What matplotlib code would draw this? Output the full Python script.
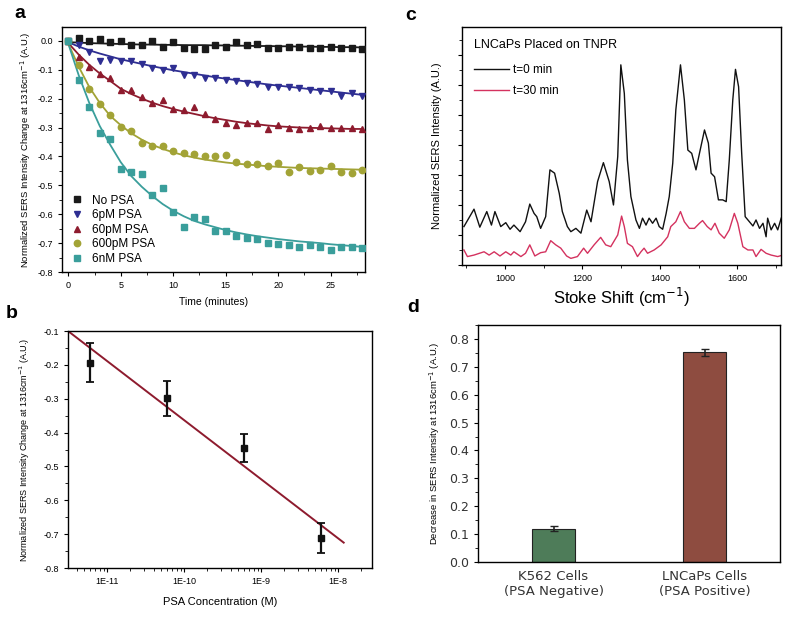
import numpy as np
import matplotlib
matplotlib.use("Agg")
import matplotlib.pyplot as plt
from matplotlib.ticker import MultipleLocator, LogLocator, NullFormatter

plt.rcParams['font.family'] = ['Liberation Sans', 'DejaVu Sans']
plt.rcParams['axes.unicode_minus'] = False

# ---- panel a: kinetics ----
time_min = list(range(29))
no_psa = [0.0, 0.01, 0.0, 0.005, -0.005, 0.0, -0.015, -0.015, 0.0, -0.02, -0.005, -0.025, -0.03, -0.03,
          -0.015, -0.02, -0.005, -0.015, -0.01, -0.025, -0.025, -0.02, -0.02, -0.025, -0.025, -0.02,
          -0.025, -0.025, -0.03]
psa_6pm = [0.0, -0.015, -0.04, -0.07, -0.065, -0.07, -0.07, -0.08, -0.095, -0.1, -0.095, -0.12, -0.12,
           -0.13, -0.13, -0.135, -0.14, -0.145, -0.15, -0.16, -0.16, -0.16, -0.165, -0.17, -0.175,
           -0.175, -0.19, -0.18, -0.19]
psa_60pm = [0.0, -0.055, -0.09, -0.115, -0.13, -0.17, -0.17, -0.195, -0.215, -0.205, -0.235, -0.24,
            -0.23, -0.255, -0.27, -0.285, -0.29, -0.285, -0.285, -0.305, -0.29, -0.3, -0.305, -0.3,
            -0.295, -0.3, -0.3, -0.3, -0.305]
psa_600pm = [0.0, -0.083, -0.168, -0.218, -0.257, -0.297, -0.311, -0.353, -0.363, -0.363, -0.382, -0.387,
             -0.392, -0.398, -0.398, -0.395, -0.418, -0.427, -0.427, -0.434, -0.422, -0.453, -0.436,
             -0.45, -0.447, -0.432, -0.453, -0.459, -0.447]
psa_6nm = [0.0, -0.135, -0.23, -0.318, -0.341, -0.444, -0.455, -0.461, -0.534, -0.511, -0.593, -0.644,
           -0.609, -0.617, -0.658, -0.658, -0.674, -0.681, -0.686, -0.699, -0.702, -0.708, -0.713,
           -0.708, -0.713, -0.725, -0.713, -0.713, -0.716]

fit_no = [-0.005, -0.006, -0.008, -0.009, -0.010, -0.011, -0.012, -0.013, -0.013, -0.014, -0.014, -0.015,
          -0.015, -0.015, -0.016, -0.016, -0.017, -0.017, -0.018, -0.018, -0.019, -0.019, -0.020, -0.020,
          -0.021, -0.021, -0.022, -0.022, -0.023]
fit_6pm = [-0.005, -0.02, -0.033, -0.044, -0.054, -0.064, -0.072, -0.080, -0.088, -0.095, -0.102, -0.108,
           -0.114, -0.120, -0.126, -0.131, -0.136, -0.141, -0.146, -0.151, -0.155, -0.159, -0.163,
           -0.167, -0.171, -0.175, -0.179, -0.183, -0.187]
fit_60pm = [-0.008, -0.048, -0.083, -0.113, -0.139, -0.166, -0.184, -0.200, -0.214, -0.226, -0.236, -0.245,
            -0.253, -0.261, -0.268, -0.274, -0.280, -0.285, -0.289, -0.293, -0.296, -0.298, -0.300,
            -0.301, -0.302, -0.303, -0.304, -0.305, -0.305]
fit_600pm = [-0.01, -0.09, -0.16, -0.215, -0.26, -0.292, -0.320, -0.342, -0.360, -0.374, -0.386, -0.396,
             -0.404, -0.411, -0.416, -0.421, -0.425, -0.428, -0.431, -0.434, -0.436, -0.438, -0.440,
             -0.441, -0.442, -0.443, -0.444, -0.445, -0.446]
fit_6nm = [-0.01, -0.12, -0.215, -0.295, -0.36, -0.42, -0.468, -0.505, -0.537, -0.565, -0.588, -0.607,
           -0.623, -0.635, -0.645, -0.655, -0.663, -0.670, -0.676, -0.681, -0.686, -0.690, -0.694,
           -0.697, -0.700, -0.704, -0.707, -0.710, -0.713]

series_labels = ['No PSA', '6pM PSA', '60pM PSA', '600pM PSA', '6nM PSA']

# ---- panel b: calibration ----
conc_m = [6e-12, 6e-11, 6e-10, 6e-9]
conc_change = [-0.194, -0.299, -0.446, -0.711]
conc_err = [0.058, 0.052, 0.041, 0.044]
line_conc = [3.1e-12, 1.18e-8]
line_val = [-0.1, -0.725]

# ---- panel c: spectra ----
shift_t0 = [894, 920, 935, 953, 965, 974, 989, 1002, 1013, 1023, 1039, 1053, 1064, 1075, 1082, 1092,
            1105, 1116, 1128, 1140, 1148, 1161, 1170, 1183, 1196, 1211, 1222, 1239, 1254, 1269, 1280,
            1291, 1299, 1308, 1316, 1325, 1338, 1347, 1355, 1364, 1372, 1381, 1390, 1398, 1407, 1416,
            1424, 1433, 1441, 1453, 1463, 1472, 1482, 1493, 1502, 1515, 1525, 1532, 1541, 1551, 1562,
            1571, 1579, 1588, 1595, 1603, 1611, 1620, 1631, 1640, 1648, 1657, 1666, 1674, 1678, 1687,
            1696, 1704, 1713]
int_t0 = [1.28, 1.86, 1.26, 1.78, 1.33, 1.78, 1.28, 1.41, 1.19, 1.33, 1.11, 1.44, 2.03, 1.72, 1.61, 1.22,
          1.61, 3.17, 3.06, 2.39, 1.78, 1.28, 1.11, 1.22, 1.06, 1.83, 1.44, 2.78, 3.41, 2.78, 2.00,
          3.61, 6.67, 5.72, 3.50, 2.28, 1.50, 1.22, 1.56, 1.33, 1.56, 1.39, 1.56, 1.28, 1.19, 1.72,
          2.28, 3.39, 5.17, 6.67, 5.50, 3.83, 3.72, 3.17, 3.72, 4.50, 4.06, 3.06, 2.94, 2.17, 2.17,
          2.11, 3.50, 5.50, 6.52, 5.94, 3.72, 1.61, 1.44, 1.30, 1.50, 1.22, 1.39, 0.94, 1.56, 1.17,
          1.39, 1.17, 1.56]
shift_t30 = [894, 903, 920, 946, 959, 972, 987, 1002, 1015, 1023, 1041, 1053, 1064, 1077, 1092, 1105,
             1118, 1131, 1144, 1159, 1170, 1187, 1203, 1213, 1230, 1247, 1260, 1273, 1291, 1301, 1308,
             1316, 1329, 1342, 1351, 1359, 1368, 1385, 1403, 1420, 1428, 1441, 1453, 1463, 1476, 1489,
             1502, 1510, 1522, 1532, 1542, 1553, 1566, 1579, 1592, 1601, 1614, 1627, 1640, 1648, 1661,
             1674, 1687, 1704, 1717]
int_t30 = [0.50, 0.28, 0.33, 0.44, 0.33, 0.44, 0.30, 0.44, 0.33, 0.44, 0.28, 0.39, 0.67, 0.30, 0.41, 0.44,
           0.81, 0.67, 0.56, 0.30, 0.22, 0.28, 0.56, 0.39, 0.67, 0.92, 0.67, 0.61, 1.00, 1.63, 1.28,
           0.72, 0.61, 0.28, 0.44, 0.56, 0.39, 0.50, 0.67, 0.94, 1.28, 1.44, 1.78, 1.44, 1.22, 1.22,
           1.39, 1.48, 1.28, 1.17, 1.39, 1.06, 0.89, 1.17, 1.72, 1.39, 0.61, 0.50, 0.50, 0.28, 0.52,
           0.39, 0.33, 0.28, 0.33]

# ---- panel d: cell lines ----
cell_labels = ['K562 Cells\n(PSA Negative)', 'LNCaPs Cells\n(PSA Positive)']
cell_decrease = [0.12, 0.752]
cell_err = [0.01, 0.013]

ylab_change = 'Normalized SERS Intensity Change at 1316cm$^{-1}$ (A.U.)'

fig = plt.figure(figsize=(8, 6.22), dpi=100)

# panel a
ax_a = fig.add_axes([0.0775, 0.5627, 0.379, 0.394])
colors = ['#1a1a1a', '#2e2e92', '#8e1b2e', '#a2a336', '#3a9e9b']
markers = ['s', 'v', '^', 'o', 's']
data_a = [no_psa, psa_6pm, psa_60pm, psa_600pm, psa_6nm]
fits_a = [fit_no, fit_6pm, fit_60pm, fit_600pm, fit_6nm]
for vals, fit, c, m, lab in zip(data_a, fits_a, colors, markers, series_labels):
    ax_a.plot(time_min, fit, color=c, lw=1.3, zorder=2)
    ax_a.plot(time_min, vals, ls='none', marker=m, color=c, ms=4.6, label=lab, zorder=3)
ax_a.set_xlim(-0.6, 28.3)
ax_a.set_ylim(-0.8, 0.048)
ax_a.xaxis.set_major_locator(MultipleLocator(5))
ax_a.xaxis.set_minor_locator(MultipleLocator(2.5))
ax_a.yaxis.set_major_locator(MultipleLocator(0.1))
ax_a.yaxis.set_minor_locator(MultipleLocator(0.05))
ax_a.yaxis.set_major_formatter(plt.FormatStrFormatter('%.1f'))
ax_a.tick_params(labelsize=6.5, length=3, width=0.8, direction='out')
ax_a.tick_params(which='minor', length=2, width=0.6)
ax_a.set_xlabel('Time (minutes)', fontsize=7.5, labelpad=5)
ax_a.set_ylabel(ylab_change, fontsize=6.8, labelpad=3)
ax_a.legend(loc='lower left', bbox_to_anchor=(0.0, -0.005), frameon=False, fontsize=8.5,
            handletextpad=0.6, labelspacing=0.22, borderaxespad=0.3, handlelength=1.2)

# panel b
ax_b = fig.add_axes([0.085, 0.0868, 0.38, 0.381])
ax_b.set_xscale('log')
ax_b.plot(line_conc, line_val, color='#8e1b2e', lw=1.4, zorder=2)
ax_b.errorbar(conc_m, conc_change, yerr=conc_err, fmt='s', color='#111111', ms=5,
              capsize=3, elinewidth=1.6, capthick=1.3, zorder=3)
ax_b.set_xlim(3.1e-12, 2.75e-8)
ax_b.set_ylim(-0.8, -0.1)
ax_b.set_xticks([1e-11, 1e-10, 1e-9, 1e-8], ['1E-11', '1E-10', '1E-9', '1E-8'])
ax_b.xaxis.set_minor_locator(LogLocator(base=10, subs=np.arange(2, 10)))
ax_b.xaxis.set_minor_formatter(NullFormatter())
ax_b.yaxis.set_major_locator(MultipleLocator(0.1))
ax_b.yaxis.set_minor_locator(MultipleLocator(0.05))
ax_b.yaxis.set_major_formatter(plt.FormatStrFormatter('%.1f'))
ax_b.tick_params(labelsize=6.5, length=3, width=0.8, direction='out')
ax_b.tick_params(which='minor', length=2, width=0.6)
ax_b.set_xlabel('PSA Concentration (M)', fontsize=8, labelpad=8)
ax_b.set_ylabel(ylab_change, fontsize=6.5, labelpad=8)

# panel c
ax_c = fig.add_axes([0.5775, 0.574, 0.399, 0.383])
ax_c.plot(shift_t0, int_t0, color='#111111', lw=1.0, label='t=0 min')
ax_c.plot(shift_t30, int_t30, color='#d4325f', lw=1.0, label='t=30 min')
ax_c.set_xlim(889, 1713)
ax_c.set_ylim(0, 7.94)
ax_c.xaxis.set_major_locator(MultipleLocator(200))
ax_c.xaxis.set_minor_locator(MultipleLocator(100))
ax_c.yaxis.set_major_locator(MultipleLocator(1))
ax_c.yaxis.set_minor_locator(MultipleLocator(0.5))
ax_c.set_yticklabels([])
ax_c.tick_params(labelsize=6.5, length=3, width=0.8, direction='out')
ax_c.tick_params(which='minor', length=2, width=0.6)
ax_c.set_xlabel('Stoke Shift (cm$^{-1}$)', fontsize=12, labelpad=2)
ax_c.set_ylabel('Normalized SERS Intensity (A.U.)', fontsize=8, labelpad=8)
leg_c = ax_c.legend(loc='upper left', frameon=False, fontsize=8.5, title='LNCaPs Placed on TNPR',
                    title_fontsize=9, alignment='left', handlelength=3.0, handletextpad=0.3,
                    labelspacing=0.75, borderaxespad=0.6, borderpad=0.4)
leg_c._legend_box.sep = 10

# panel d
ax_d = fig.add_axes([0.5975, 0.0965, 0.3775, 0.381])
ax_d.bar([0, 1], cell_decrease, width=0.28, color=['#4e7c59', '#8e4c40'], edgecolor='#222222',
         linewidth=0.8, yerr=cell_err, capsize=3,
         error_kw=dict(elinewidth=1.2, capthick=1.0, ecolor='#222222'))
ax_d.set_xlim(-0.5, 1.5)
ax_d.set_ylim(0, 0.85)
ax_d.set_xticks([0, 1])
ax_d.set_xticklabels(cell_labels, fontsize=9.5, family='DejaVu Sans', color='#333333')
ax_d.yaxis.set_major_locator(MultipleLocator(0.1))
ax_d.yaxis.set_minor_locator(MultipleLocator(0.05))
ax_d.yaxis.set_major_formatter(plt.FormatStrFormatter('%.1f'))
for t in ax_d.get_yticklabels():
    t.set_family('DejaVu Sans')
ax_d.tick_params(axis='y', labelsize=9, length=3, width=0.8, direction='out', labelcolor='#333333')
ax_d.tick_params(axis='y', which='minor', length=2, width=0.6)
ax_d.tick_params(axis='x', length=0, pad=6)
ax_d.set_ylabel('Decrease in SERS Intensity at 1316cm$^{-1}$ (A.U.)', fontsize=6.8, labelpad=5)

for ax in (ax_a, ax_b, ax_c, ax_d):
    for s in ax.spines.values():
        s.set_linewidth(1.0)

for lab, x, y in [('a', 20, 14), ('b', 12, 313), ('c', 411, 16), ('d', 413, 308)]:
    fig.text(x / 800, 1 - y / 622, lab, fontsize=14, fontweight='bold', ha='center', va='center')

fig.savefig('out.png', dpi=100)
